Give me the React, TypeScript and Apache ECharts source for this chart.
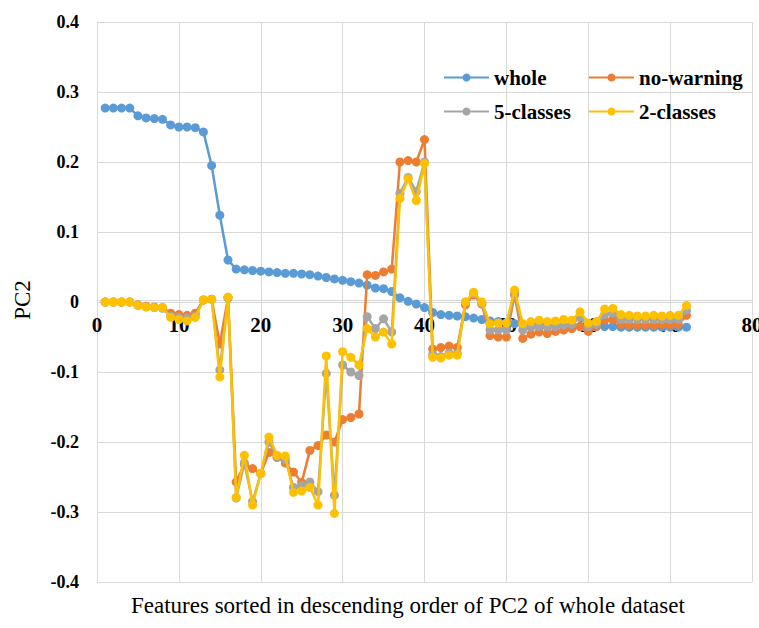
import React, { useEffect, useRef } from "react";
import * as echarts from "echarts";

const whole = [
  0.277, 0.277, 0.277, 0.277, 0.266, 0.263, 0.262, 0.261, 0.253, 0.25,
  0.25, 0.249, 0.243, 0.195, 0.124, 0.06, 0.047, 0.046, 0.045, 0.044,
  0.043, 0.042, 0.041, 0.041, 0.04, 0.039, 0.037, 0.035, 0.033, 0.031,
  0.029, 0.027, 0.024, 0.02, 0.019, 0.015, 0.006, 0.001, -0.003, -0.008,
  -0.015, -0.018, -0.019, -0.02, -0.021, -0.023, -0.025, -0.027, -0.028, -0.03,
  -0.031, -0.032, -0.033, -0.033, -0.034, -0.034, -0.034, -0.035, -0.035, -0.035,
  -0.035, -0.035, -0.035, -0.036, -0.036, -0.036, -0.036, -0.036, -0.036, -0.036,
  -0.036, -0.036,
];

const noWarning = [
  0.0, 0.0, 0.0, 0.0, -0.004, -0.006, -0.007, -0.008, -0.016, -0.018,
  -0.019, -0.016, 0.003, 0.004, -0.06, 0.006, -0.257, -0.232, -0.238, -0.245,
  -0.215, -0.222, -0.23, -0.243, -0.258, -0.212, -0.205, -0.19, -0.2, -0.168,
  -0.165, -0.16, 0.039, 0.038, 0.043, 0.047, 0.2, 0.202, 0.2, 0.232,
  -0.067, -0.065, -0.063, -0.065, -0.004, 0.01, -0.003, -0.048, -0.05, -0.05,
  0.01, -0.052, -0.046, -0.043, -0.045, -0.042, -0.04, -0.038, -0.035, -0.042,
  -0.035, -0.026, -0.025, -0.032, -0.033, -0.033, -0.033, -0.033, -0.032, -0.033,
  -0.032, -0.019,
];

const fiveClasses = [
  0.0, 0.0, 0.0, 0.0, -0.005, -0.007, -0.008, -0.009, -0.02, -0.022,
  -0.023, -0.02, 0.003, 0.004, -0.097, 0.006, -0.28, -0.23, -0.285, -0.245,
  -0.2, -0.222, -0.225, -0.265, -0.262, -0.257, -0.271, -0.102, -0.276, -0.09,
  -0.1, -0.105, -0.021, -0.038, -0.024, -0.043, 0.155, 0.178, 0.158, 0.2,
  -0.075, -0.078, -0.073, -0.074, 0.0, 0.012, -0.002, -0.04, -0.04, -0.04,
  0.013, -0.04, -0.036, -0.035, -0.036, -0.035, -0.033, -0.032, -0.022, -0.035,
  -0.032, -0.018, -0.016, -0.025, -0.025, -0.025, -0.025, -0.025, -0.025, -0.025,
  -0.025, -0.012,
];

const twoClasses = [
  0.0, 0.0, 0.0, 0.0, -0.005, -0.007, -0.008, -0.008, -0.022, -0.025,
  -0.027, -0.022, 0.003, 0.004, -0.107, 0.007, -0.279, -0.219, -0.29, -0.245,
  -0.193, -0.219, -0.22, -0.272, -0.27, -0.265, -0.29, -0.077, -0.302, -0.071,
  -0.079, -0.09, -0.038, -0.05, -0.043, -0.06, 0.148, 0.176, 0.145, 0.198,
  -0.079, -0.08, -0.076, -0.076, 0.0, 0.014, 0.0, -0.031, -0.03, -0.03,
  0.017, -0.031, -0.028, -0.026, -0.028, -0.027, -0.025, -0.026, -0.014, -0.03,
  -0.028, -0.01, -0.009, -0.018, -0.019, -0.02, -0.02, -0.019, -0.02, -0.019,
  -0.019, -0.005,
];

const seriesNames = ["whole", "no-warning", "5-classes", "2-classes"];
const seriesValues = [whole, noWarning, fiveClasses, twoClasses];
const seriesColors = ["#5B9BD5", "#ED7D31", "#A5A5A5", "#FFC000"];
const xTitle = "Features sorted in descending order of PC2 of whole dataset";
const yTitle = "PC2";

const FONT = "'Liberation Serif', 'Times New Roman', serif";

export default function App() {
  const ref = useRef<HTMLDivElement>(null);
  useEffect(() => {
    document.body.style.margin = "0";
    if (!ref.current) return;
    const chart = echarts.init(ref.current, undefined, { renderer: "svg" });
    const legendPos = [
      { left: 443, top: 67 },
      { left: 588, top: 67 },
      { left: 443, top: 101 },
      { left: 588, top: 101 },
    ];
    chart.setOption({
      animation: false,
      backgroundColor: "#ffffff",
      grid: { left: 97, right: 7, top: 22, bottom: 46, containLabel: false, outerBoundsMode: "none" },
      legend: seriesNames.map((n, i) => ({
        data: [n],
        left: legendPos[i].left,
        top: legendPos[i].top,
        padding: 0,
        itemWidth: 45,
        itemHeight: 10,
        itemGap: 4,
        textStyle: { fontFamily: FONT, fontSize: 21, fontWeight: "bold", color: "#000" },
      })),
      graphic: [
        {
          type: "text",
          x: 131,
          y: 605,
          style: {
            text: xTitle,
            font: `23px ${FONT}`,
            fill: "#000",
            align: "left",
            verticalAlign: "middle",
          },
        },
        {
          type: "text",
          x: 22,
          y: 300,
          rotation: Math.PI / 2,
          style: {
            text: yTitle,
            font: `23px ${FONT}`,
            fill: "#000",
            align: "center",
            verticalAlign: "middle",
          },
        },
      ],
      xAxis: {
        type: "value",
        min: 0,
        max: 80,
        interval: 10,
        position: "bottom",
        offset: -282,
        axisLine: { onZero: false, lineStyle: { color: "#d9d9d9", width: 1 } },
        axisTick: { show: false },
        axisLabel: { fontFamily: FONT, fontSize: 21, fontWeight: "bold", color: "#000", margin: 14 },
        splitLine: { show: true, lineStyle: { color: "#d9d9d9", width: 1 } },
      },
      yAxis: {
        type: "value",
        min: -0.4,
        max: 0.4,
        interval: 0.1,
        axisLine: { show: true, onZero: false, lineStyle: { color: "#d9d9d9", width: 1 } },
        axisTick: { show: false },
        axisLabel: {
          fontFamily: FONT,
          fontSize: 18,
          fontWeight: "bold",
          color: "#000",
          margin: 18,
          formatter: (v: number) => String(Math.round(v * 10) / 10),
        },
        splitLine: { show: true, lineStyle: { color: "#d9d9d9", width: 1 } },
      },
      series: seriesNames.map((n, i) => ({
        name: n,
        type: "line",
        data: seriesValues[i].map((v, k) => [k + 1, v]),
        symbol: "circle",
        symbolSize: 9,
        showSymbol: true,
        itemStyle: { color: seriesColors[i] },
        lineStyle: { color: seriesColors[i], width: 2.5 },
        z: 2 + i,
      })),
    });
    return () => chart.dispose();
  }, []);
  return <div ref={ref} style={{ width: 759, height: 628 }} />;
}
